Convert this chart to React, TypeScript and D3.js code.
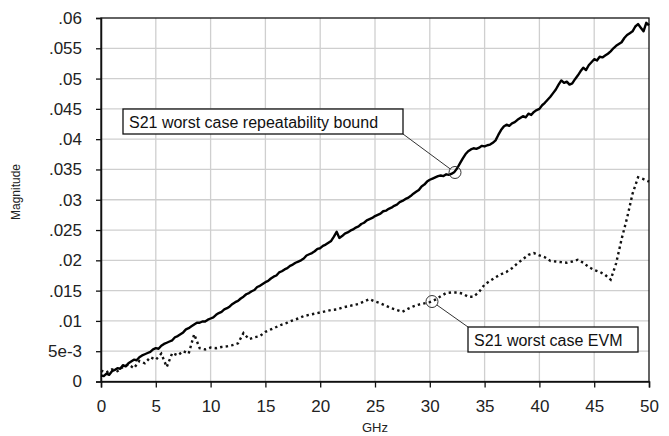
import { useEffect, useRef } from 'react'
import * as d3 from 'd3'

// S21 worst case repeatability bound, 0..50 GHz every 0.25 GHz
const boundStep = 0.25
const boundValues = [
  .0010, .0009, .0013, .0011,
  .0017, .0019, .0022, .0021,
  .0027, .0025, .0030, .0033,
  .0036, .0035, .0040, .0043,
  .0045, .0047, .0049, .0053,
  .0055, .0054, .0059, .0062,
  .0064, .0066, .0068, .0073,
  .0075, .0078, .0081, .0086,
  .0088, .0091, .0094, .0097,
  .0097, .0099, .0099, .0102,
  .0104, .0106, .0110, .0113,
  .0115, .0119, .0121, .0124,
  .0128, .0131, .0133, .0137,
  .0140, .0144, .0146, .0149,
  .0151, .0156, .0158, .0161,
  .0164, .0166, .0170, .0173,
  .0175, .0180, .0182, .0185,
  .0187, .0191, .0193, .0196,
  .0198, .0200, .0203, .0208,
  .0210, .0212, .0215, .0219,
  .0220, .0224, .0226, .0229,
  .0232, .0239, .0247, .0237,
  .0240, .0244, .0246, .0249,
  .0251, .0254, .0256, .0260,
  .0262, .0266, .0268, .0270,
  .0273, .0275, .0277, .0281,
  .0282, .0285, .0287, .0290,
  .0292, .0296, .0298, .0301,
  .0303, .0306, .0310, .0313,
  .0316, .0322, .0325, .0330,
  .0333, .0335, .0337, .0339,
  .0340, .0339, .0342, .0341,
  .0343, .0346, .0352, .0360,
  .0368, .0375, .0380, .0383,
  .0385, .0384, .0386, .0389,
  .0388, .0390, .0391, .0394,
  .0398, .0407, .0415, .0421,
  .0424, .0422, .0426, .0428,
  .0432, .0435, .0438, .0436,
  .0442, .0440, .0445, .0448,
  .0450, .0456, .0460, .0465,
  .0470, .0476, .0482, .0490,
  .0497, .0493, .0495, .0490,
  .0492, .0499, .0505, .0512,
  .0518, .0514, .0522, .0527,
  .0532, .0530, .0536, .0535,
  .0538, .0541, .0545, .0550,
  .0554, .0557, .0560, .0567,
  .0572, .0575, .0578, .0586,
  .0590, .0584, .0578, .0592,
  .0588
]

// S21 worst case EVM, 0..50 GHz every 0.5 GHz
const evmStep = 0.5
const evmValues = [
  .0018, .0015, .0020, .0017, .0024, .0028, .0022, .0034, .0030, .0040,
  .0036, .0046, .0024, .0047, .0043, .0050, .0046, .0078, .0055, .0053,
  .0056, .0055, .0057, .0058, .0060, .0063, .0080, .0070, .0073, .0075,
  .0082, .0086, .0090, .0094, .0097, .0101, .0104, .0108, .0110, .0112,
  .0114, .0116, .0118, .0119, .0122, .0124, .0126, .0128, .0132, .0136,
  .0132, .0129, .0125, .0121, .0118, .0115, .0120, .0124, .0127, .0129,
  .0131, .0135, .0141, .0146, .0147, .0147, .0145, .0140, .0140, .0148,
  .0160, .0166, .0172, .0177, .0181, .0187, .0195, .0202, .0209, .0212,
  .0208, .0205, .0199, .0198, .0197, .0196, .0198, .0201, .0196, .0189,
  .0184, .0181, .0176, .0168, .0195, .0235, .0270, .0310, .0337, .0334,
  .0330
]

const xTicks = [0, 5, 10, 15, 20, 25, 30, 35, 40, 45, 50]
const yTicks = [0, .005, .01, .015, .02, .025, .03, .035, .04, .045, .05, .055, .06]
const yTickLabels = ['0', '5e-3', '.01', '.015', '.02', '.025', '.03', '.035', '.04', '.045', '.05', '.055', '.06']

export default function App() {
  const ref = useRef<SVGSVGElement>(null)

  useEffect(() => {
    if (!ref.current) return
    const W = 669, H = 436
    const left = 101, right = 649, top = 18, bottom = 381.5
    const font = 'Arial, "Liberation Sans", sans-serif'

    const svg = d3.select(ref.current)
    svg.selectAll('*').remove()

    svg.append('rect').attr('width', W).attr('height', H).attr('fill', 'white')

    const x = d3.scaleLinear().domain([0, 50]).range([left, right])
    const y = d3.scaleLinear().domain([0, .06]).range([bottom, top])

    // Grid
    const grid = svg.append('g').attr('stroke', '#cfcfcf').attr('stroke-width', 1.3)
    xTicks.slice(1, -1).forEach(t => {
      grid.append('line').attr('x1', x(t)).attr('x2', x(t)).attr('y1', top).attr('y2', bottom)
    })
    yTicks.slice(1, -1).forEach(t => {
      grid.append('line').attr('x1', left).attr('x2', right).attr('y1', y(t)).attr('y2', y(t))
    })

    // Frame
    svg.append('rect')
      .attr('x', left).attr('y', top)
      .attr('width', right - left).attr('height', bottom - top)
      .attr('fill', 'none').attr('stroke', '#111').attr('stroke-width', 1.3)

    // Axes
    const yAxis = svg.append('g').attr('transform', `translate(${left},0)`)
      .call(d3.axisLeft(y).tickValues(yTicks).tickSize(5).tickPadding(14)
        .tickFormat((d, i) => yTickLabels[i]))
    const xAxis = svg.append('g').attr('transform', `translate(0,${bottom})`)
      .call(d3.axisBottom(x).tickValues(xTicks).tickSize(6).tickPadding(12.5)
        .tickFormat(d => String(d)))
    ;[xAxis, yAxis].forEach(a => {
      a.select('.domain').attr('stroke', '#111').attr('stroke-width', 1.5)
      a.selectAll('.tick line').attr('stroke', '#111').attr('stroke-width', 1.3)
      a.selectAll('.tick text').attr('fill', '#222').style('font-family', font).style('font-size', '17px')
    })

    // Axis titles
    svg.append('text')
      .attr('x', (left + right) / 2).attr('y', 432)
      .attr('text-anchor', 'middle').attr('fill', '#222')
      .style('font-family', font).style('font-size', '13px')
      .text('GHz')
    svg.append('text')
      .attr('transform', `translate(20,192) rotate(-90)`)
      .attr('text-anchor', 'middle').attr('fill', '#222')
      .style('font-family', font).style('font-size', '12px')
      .text('Magnitude')

    const line = d3.line<number>()

    const boundPts = boundValues.map((v, i) => [x(i * boundStep), y(v)] as [number, number])
    const evmPts = evmValues.map((v, i) => [x(i * evmStep), y(v)] as [number, number])

    svg.append('path')
      .attr('d', line(evmPts))
      .attr('fill', 'none').attr('stroke', '#111')
      .attr('stroke-width', 2.4).attr('stroke-dasharray', '2.4,3.2')

    svg.append('path')
      .attr('d', line(boundPts))
      .attr('fill', 'none').attr('stroke', '#000')
      .attr('stroke-width', 2.4).attr('stroke-linejoin', 'round')

    // Annotations
    const annotate = (label: string, gx: number, gv: number, bx: number, by: number, bw: number, lx: number, ly: number) => {
      const cx = x(gx), cy = y(gv)
      const g = svg.append('g')
      const dx = lx - cx, dy = ly - cy
      const d = Math.hypot(dx, dy)
      g.append('line')
        .attr('x1', cx + dx / d * 6).attr('y1', cy + dy / d * 6)
        .attr('x2', lx).attr('y2', ly)
        .attr('stroke', '#333').attr('stroke-width', 1)
      g.append('circle').attr('cx', cx).attr('cy', cy).attr('r', 6)
        .attr('fill', 'none').attr('stroke', '#333').attr('stroke-width', 1)
      g.append('rect').attr('x', bx).attr('y', by).attr('width', bw).attr('height', 25)
        .attr('fill', 'white').attr('stroke', '#111').attr('stroke-width', 1.3)
      g.append('text').attr('x', bx + 6).attr('y', by + 18.5)
        .attr('fill', '#111')
        .style('font-family', font).style('font-size', '16px')
        .text(label)
    }
    annotate('S21 worst case repeatability bound', 32.3, .0345, 123, 109, 280, 403, 134)
    annotate('S21 worst case EVM', 30.2, .0132, 468, 327, 170, 468, 327)
  }, [])

  return (
    <svg ref={ref} width={669} height={436}
      style={{ position: 'absolute', left: 0, top: 0, display: 'block' }} />
  )
}
